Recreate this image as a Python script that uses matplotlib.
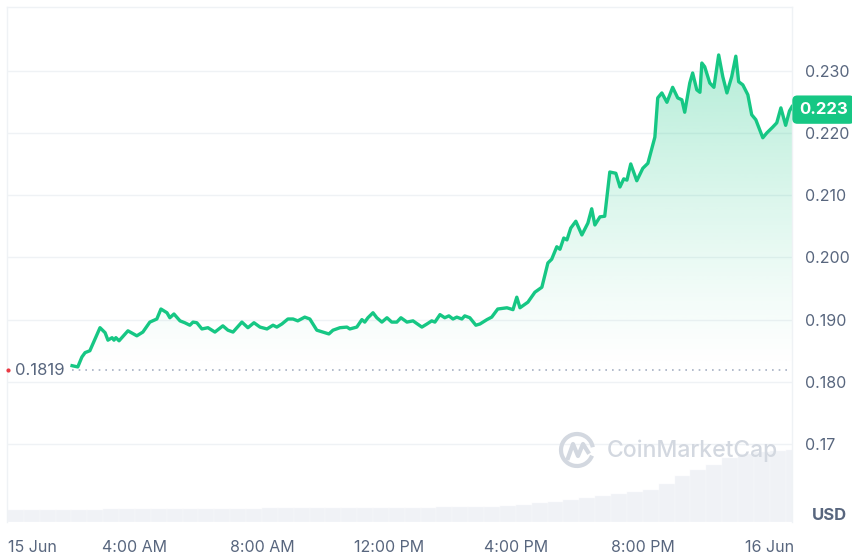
import matplotlib
matplotlib.use("Agg")
import matplotlib.pyplot as plt
from matplotlib.patches import Arc
import numpy as np

plt.rcParams['font.family'] = ['Inter', 'DejaVu Sans']

# price, hours since 15 Jun 00:00
hours = [2.02, 2.20, 2.33, 2.43, 2.58, 2.90, 3.06, 3.15, 3.28, 3.34, 3.40, 3.50, 3.78, 4.06, 4.25,
         4.47, 4.69, 4.82, 5.01, 5.10, 5.23, 5.42, 5.57, 5.73, 5.83, 5.95, 6.11, 6.30, 6.52, 6.77,
         6.93, 7.09, 7.37, 7.56, 7.75, 7.94, 8.16, 8.35, 8.47, 8.63, 8.82, 8.98, 9.13, 9.35, 9.51,
         9.73, 9.92, 10.11, 10.24, 10.46, 10.68, 10.77, 10.99, 11.15, 11.24, 11.34, 11.50, 11.62,
         11.78, 11.94, 12.09, 12.25, 12.38, 12.57, 12.76, 13.04, 13.20, 13.35, 13.45, 13.61, 13.76,
         13.89, 14.02, 14.14, 14.30, 14.39, 14.55, 14.74, 14.87, 15.09, 15.24, 15.43, 15.72, 15.91,
         16.03, 16.13, 16.38, 16.60, 16.82, 17.01, 17.13, 17.29, 17.39, 17.51, 17.61, 17.73, 17.89,
         18.08, 18.27, 18.39, 18.49, 18.65, 18.80, 18.96, 19.15, 19.28, 19.40, 19.50, 19.62, 19.81,
         20.00, 20.16, 20.31, 20.38, 20.47, 20.60, 20.76, 20.94, 21.10, 21.23, 21.32, 21.48, 21.57,
         21.70, 21.80, 21.86, 21.95, 22.11, 22.24, 22.39, 22.52, 22.65, 22.80, 22.93, 23.02, 23.15,
         23.31, 23.43, 23.56, 23.78, 23.91, 24.09, 24.22, 24.35, 24.50, 24.62, 24.70]
price = [0.1826, 0.1824, 0.1840, 0.1847, 0.1850, 0.1887, 0.1879, 0.1867, 0.1871, 0.1867, 0.1871,
         0.1866, 0.1882, 0.1874, 0.1880, 0.1896, 0.1901, 0.1917, 0.1911, 0.1903, 0.1909, 0.1898,
         0.1895, 0.1891, 0.1896, 0.1895, 0.1885, 0.1887, 0.1880, 0.1890, 0.1883, 0.1880, 0.1896,
         0.1887, 0.1895, 0.1888, 0.1885, 0.1891, 0.1888, 0.1893, 0.1901, 0.1901, 0.1898, 0.1904,
         0.1901, 0.1883, 0.1880, 0.1877, 0.1883, 0.1887, 0.1888, 0.1885, 0.1888, 0.1900, 0.1896,
         0.1903, 0.1911, 0.1903, 0.1896, 0.1903, 0.1896, 0.1896, 0.1903, 0.1896, 0.1898, 0.1888,
         0.1893, 0.1898, 0.1896, 0.1908, 0.1903, 0.1906, 0.1901, 0.1904, 0.1901, 0.1906, 0.1903,
         0.1891, 0.1893, 0.1900, 0.1904, 0.1917, 0.1919, 0.1916, 0.1936, 0.1919, 0.1928, 0.1944,
         0.1952, 0.1991, 0.1997, 0.2017, 0.2013, 0.2031, 0.2028, 0.2047, 0.2058, 0.2036, 0.2055,
         0.2078, 0.2052, 0.2065, 0.2066, 0.2137, 0.2135, 0.2113, 0.2126, 0.2124, 0.2150, 0.2123,
         0.2143, 0.2151, 0.2180, 0.2193, 0.2256, 0.2264, 0.2249, 0.2273, 0.2256, 0.2253, 0.2233,
         0.2280, 0.2296, 0.2269, 0.2265, 0.2312, 0.2306, 0.2280, 0.2273, 0.2325, 0.2290, 0.2264,
         0.2290, 0.2323, 0.2282, 0.2277, 0.2261, 0.2229, 0.2221, 0.2192, 0.2200, 0.2209, 0.2216,
         0.2240, 0.2212, 0.2235, 0.2242]

open_price = 0.1819
last_label = '0.223'

# volume, half-hour bins (rough, arbitrary units)
vol_hours = [i * 0.5 for i in range(50)]
volume = [12, 12, 12, 12, 12, 12,
          13, 13, 13, 13, 13, 13, 13,
          13, 13, 13, 14, 14, 14, 14, 14,
          14, 14, 14, 14, 14, 14, 15, 15, 15,
          15, 16, 17, 19, 20, 22,
          24, 26, 28, 30, 32,
          38, 46, 52, 57,
          64, 68, 70, 71, 72]

yticks = [0.17, 0.18, 0.19, 0.20, 0.21, 0.22, 0.23]
ytick_labels = ['0.17', '0.180', '0.190', '0.200', '0.210', '0.220', '0.230']
xticks = [0, 4, 8, 12, 16, 20, 24]
xtick_labels = ['15 Jun', '4:00 AM', '8:00 AM', '12:00 PM', '4:00 PM', '8:00 PM', '16 Jun']

green = '#16c784'
grey = '#58667e'
W, H = 852, 556

fig = plt.figure(figsize=(W / 100, H / 100), dpi=100)
ax = fig.add_axes([7 / W, 1 - 522 / H, 785 / W, 515 / H])
xmin, xmax = -0.03, 24.70
ymin, ymax = 0.1575, 0.2402
ax.set_xlim(xmin, xmax)
ax.set_ylim(ymin, ymax)

# volume bars on a twin axis
axv = ax.twinx()
axv.bar(vol_hours, volume, width=0.5, align='edge', color='#f0f2f6', edgecolor='#f8f9fb', linewidth=0.3)
axv.set_ylim(0, max(volume) / 0.14)
axv.set_xlim(xmin, xmax)
axv.axis('off')
ax.set_zorder(axv.get_zorder() + 1)
ax.patch.set_visible(False)

for yt in yticks:
    ax.axhline(yt, color='#eff2f5', lw=1, zorder=0)

# gradient fill under the line
poly = ax.fill_between(hours, price, open_price, color='none', lw=0)
grad = np.linspace(0, 1, 256).reshape(-1, 1)
img = np.zeros((256, 1, 4))
img[..., 0] = 22 / 255
img[..., 1] = 199 / 255
img[..., 2] = 132 / 255
img[..., 3] = 0.32 * grad[:, :] ** 1.2
im = ax.imshow(img, extent=[hours[0], hours[-1], open_price, 0.2325], origin='lower',
               aspect='auto', zorder=1)
im.set_clip_path(poly.get_paths()[0], transform=ax.transData)

ax.plot([hours[0], xmax], [open_price, open_price], color='#a6b0c3', lw=1.2,
        linestyle=(0, (1, 3)), zorder=2)
ax.plot(hours, price, color=green, lw=2.4, zorder=3, solid_joinstyle='round')
ax.set_xlim(xmin, xmax)
ax.set_ylim(ymin, ymax)

ax.text(0.22, open_price, '0.1819', color=grey, fontsize=12, va='center', ha='left', zorder=4,
        bbox=dict(fc='white', ec='none', pad=1))
ax.plot([0], [open_price], marker='o', ms=2, color='#ea3943', clip_on=False, zorder=4)

ax.annotate(last_label, xy=(1, price[-1]), xycoords=('axes fraction', 'data'),
            xytext=(7, -3), textcoords='offset pixels', ha='left', va='center',
            color='white', fontsize=12, fontweight='bold', annotation_clip=False, zorder=6,
            bbox=dict(boxstyle='round,pad=0.4,rounding_size=0.3', fc=green, ec='none'))

ax.yaxis.tick_right()
ax.set_yticks(yticks)
ax.set_yticklabels(ytick_labels)
ax.set_xticks(xticks)
ax.set_xticklabels(xtick_labels)
ax.tick_params(axis='both', length=0, labelsize=11.5, labelcolor=grey)
ax.tick_params(axis='y', pad=9)
ax.tick_params(axis='x', pad=13)
ax.get_xticklabels()[0].set_ha('left')

for s in ['left', 'top', 'right']:
    ax.spines[s].set_color('#eff2f5')
    ax.spines[s].set_linewidth(1)
ax.spines['bottom'].set_visible(False)

fig.text(829 / W, 1 - 515 / H, 'USD', color=grey, fontsize=12, fontweight='bold', ha='center', va='center')

# watermark
wm = '#d3d8e0'
fig.text(607 / W, 1 - 451 / H, 'CoinMarketCap', color=wm, fontsize=16.5, fontweight='medium',
         ha='left', va='center')
fig.patches.append(Arc((577 / W, 1 - 450 / H), 32 / W, 32 / H, theta1=15, theta2=330,
                       transform=fig.transFigure, color=wm, lw=3))
fig.lines.append(plt.Line2D([568 / W, 573 / W, 578 / W, 583 / W, 588 / W],
                            [1 - 458 / H, 1 - 444 / H, 1 - 456 / H, 1 - 444 / H, 1 - 452 / H],
                            transform=fig.transFigure, color=wm, lw=3, solid_joinstyle='round'))

fig.savefig('out.png', dpi=100)
